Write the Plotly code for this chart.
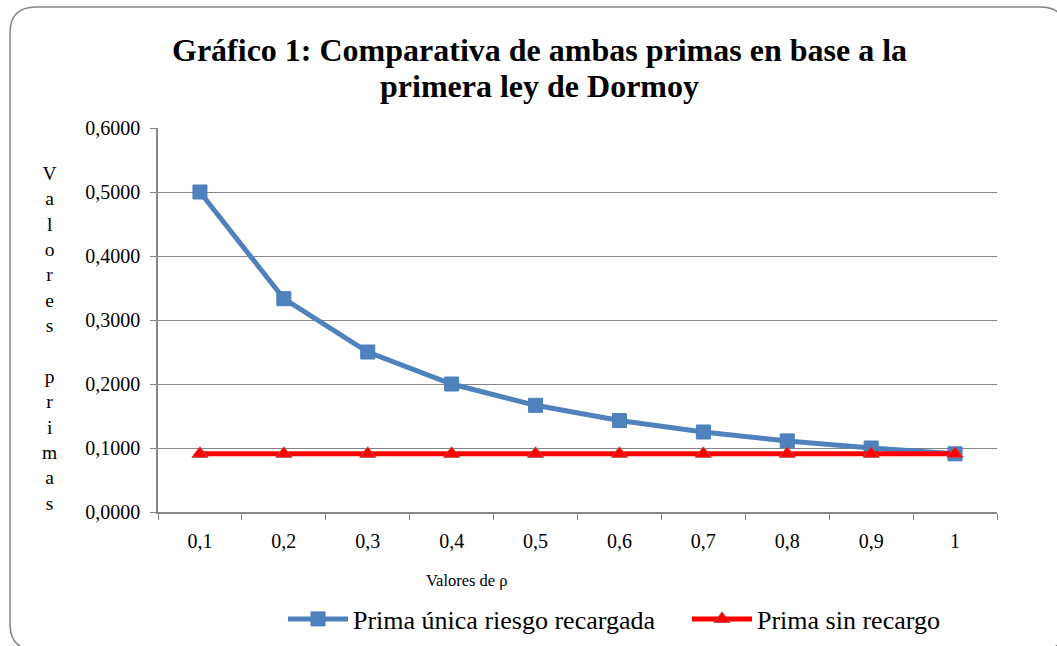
import plotly.graph_objects as go

categories = ["0,1", "0,2", "0,3", "0,4", "0,5", "0,6", "0,7", "0,8", "0,9", "1"]
prima_recargada = [0.5000, 0.3333, 0.2500, 0.2000, 0.1667, 0.1429, 0.1250, 0.1111, 0.1000, 0.0909]
prima_sin_recargo = [0.0909, 0.0909, 0.0909, 0.0909, 0.0909, 0.0909, 0.0909, 0.0909, 0.0909, 0.0909]
y_ticks = [0.0, 0.1, 0.2, 0.3, 0.4, 0.5, 0.6]
y_tick_labels = ["0,0000", "0,1000", "0,2000", "0,3000", "0,4000", "0,5000", "0,6000"]

W, H = 1057, 646
L, R, T, B = 158, 997, 128, 512
FONT = "Liberation Serif"

fig = go.Figure()
fig.add_trace(go.Scatter(
    x=categories, y=prima_recargada, mode="lines+markers",
    name="Prima única riesgo recargada",
    line=dict(color="#4F81BD", width=5),
    marker=dict(symbol="square", size=14, color="#4F81BD",
                line=dict(color="#4A7EBB", width=1)),
))
fig.add_trace(go.Scatter(
    x=categories, y=prima_sin_recargo, mode="lines+markers",
    name="Prima sin recargo",
    line=dict(color="#FF0000", width=5),
    marker=dict(symbol="triangle-up", size=14, color="#FF0000",
                line=dict(color="#BE4B48", width=1)),
))

def px_to_paper(px, py):
    return (px - L) / (R - L), (B - py) / (B - T)

def P(px, py):
    a, b = px_to_paper(px, py)
    return f"{a:.5f},{b:.5f}"

# rounded frame (extends past right and bottom edges like the reference)
x0, y0, x1, y1, r = 10, 7, 1066, 650, 26
path = (f"M {P(x0 + r, y0)} L {P(x1 - r, y0)} Q {P(x1, y0)} {P(x1, y0 + r)} "
        f"L {P(x1, y1 - r)} Q {P(x1, y1)} {P(x1 - r, y1)} "
        f"L {P(x0 + r, y1)} Q {P(x0, y1)} {P(x0, y1 - r)} "
        f"L {P(x0, y0 + r)} Q {P(x0, y0)} {P(x0 + r, y0)} Z")
fig.add_shape(type="path", path=path, xref="paper", yref="paper",
              line=dict(color="#868686", width=1.5), layer="below")

# title lines
for text, py in [("Gráfico 1: Comparativa de ambas primas en base a la", 50),
                 ("primera ley de Dormoy", 86)]:
    ax, ay = px_to_paper(539, py)
    fig.add_annotation(text=f"<b>{text}</b>", x=ax, y=ay, xref="paper", yref="paper",
                       showarrow=False, xanchor="center", yanchor="middle",
                       font=dict(family=FONT, size=32, color="black"))

# stacked vertical y title
letters = list("Valores") + [""] + list("primas")
ax, ay = px_to_paper(50, 338)
fig.add_annotation(text="<br>".join(letters), x=ax, y=ay, xref="paper", yref="paper",
                   showarrow=False, xanchor="center", yanchor="middle", align="center",
                   font=dict(family=FONT, size=19.5, color="black"))

# x axis title
ax, ay = px_to_paper(467, 580)
fig.add_annotation(text="Valores de ρ", x=ax, y=ay, xref="paper", yref="paper",
                   showarrow=False, xanchor="center", yanchor="middle",
                   font=dict(family=FONT, size=16.5, color="black"))

fig.update_layout(
    width=W, height=H,
    margin=dict(l=L, r=W - R, t=T, b=H - B, autoexpand=False),
    paper_bgcolor="white", plot_bgcolor="white",
    font=dict(family=FONT, color="black"),
    showlegend=True,
    legend=dict(orientation="h", xref="container", yref="container",
                x=687 / W, xanchor="center", y=1 - 619 / H, yanchor="middle",
                font=dict(family=FONT, size=26, color="black"),
                itemwidth=60, entrywidth=329, entrywidthmode="pixels",
                bgcolor="rgba(0,0,0,0)"),
    xaxis=dict(type="category", range=[-0.5, 9.5], showgrid=False, showline=True,
               linecolor="#868686", linewidth=1.5,
               ticks="outside", tickson="boundaries", ticklen=6, tickcolor="#868686",
               ticklabelstandoff=10, automargin=False,
               tickfont=dict(family=FONT, size=20, color="black")),
    yaxis=dict(range=[0, 0.6], tickvals=y_ticks, ticktext=y_tick_labels,
               showgrid=True, gridcolor="#868686", gridwidth=1,
               showline=True, linecolor="#868686", linewidth=1.5,
               ticks="outside", ticklen=6, tickcolor="#868686",
               ticklabelstandoff=6, automargin=False,
               tickfont=dict(family=FONT, size=20, color="black"), zeroline=False),
)

fig.write_html("out.html", config={"displayModeBar": False},
               post_script="document.body.style.margin='0';document.body.style.overflow='hidden';")
